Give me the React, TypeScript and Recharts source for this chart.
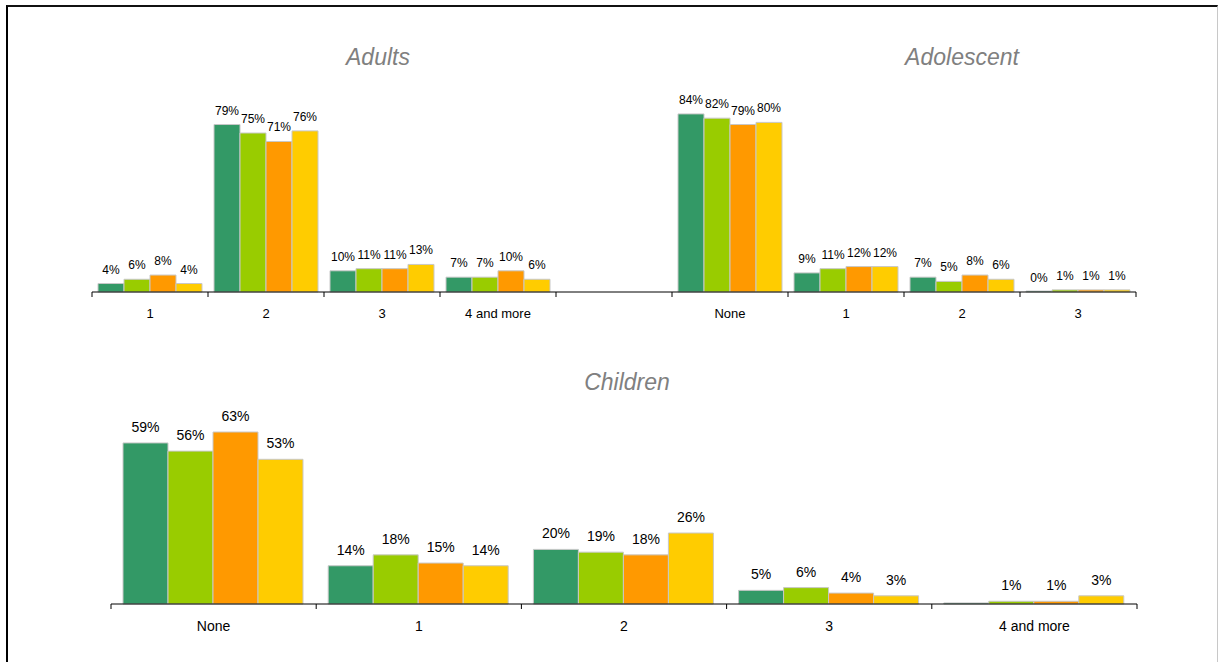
import React from "react";
import { BarChart, Bar, XAxis, YAxis, LabelList } from "recharts";

// ---- data ----
const topCategories = ["1", "2", "3", "4 and more", "", "None", "1", "2", "3"];
const topS1 = [4, 79, 10, 7, null, 84, 9, 7, 0];
const topS2 = [6, 75, 11, 7, null, 82, 11, 5, 1];
const topS3 = [8, 71, 11, 10, null, 79, 12, 8, 1];
const topS4 = [4, 76, 13, 6, null, 80, 12, 6, 1];

const childCategories = ["None", "1", "2", "3", "4 and more"];
const childS1 = [59, 14, 20, 5, 0.4];
const childS2 = [56, 18, 19, 6, 1];
const childS3 = [63, 15, 18, 4, 1];
const childS4 = [53, 14, 26, 3, 3];

const seriesKeys = ["s1", "s2", "s3", "s4"];
const seriesColors = ["#339966", "#99CC00", "#FF9900", "#FFCC00"];

const titles = [
  { text: "Adults", cx: 378, cy: 57 },
  { text: "Adolescent", cx: 962, cy: 57 },
  { text: "Children", cx: 627, cy: 382 },
];

const topData = topCategories.map((c, i) => ({
  cat: c,
  s1: topS1[i],
  s2: topS2[i],
  s3: topS3[i],
  s4: topS4[i],
}));
const childData = childCategories.map((c, i) => ({
  cat: c,
  s1: childS1[i],
  s2: childS2[i],
  s3: childS3[i],
  s4: childS4[i],
}));

const FONT = "'Liberation Sans', Arial, sans-serif";

const fmt = (v: any) => {
  if (v === null || v === undefined) return "";
  if (v > 0 && v < 1) return "";
  return `${v}%`;
};

const makeLabel = (fontSize: number, offset: number, baseY: number) => (props: any) => {
  const { x, y, width, height, value } = props;
  const txt = fmt(value);
  if (!txt || x == null || y == null) return null;
  const yy = Number(y);
  const hh = Number(height || 0);
  let topY = Math.min(yy, yy + hh);
  if (Number(value) === 0) topY = Math.max(topY, baseY);
  return (
    <text
      x={Number(x) + Number(width) / 2}
      y={topY - offset}
      textAnchor="middle"
      fontSize={fontSize}
      fontFamily={FONT}
      fill="#000"
    >
      {txt}
    </text>
  );
};

const makeTick =
  (bandWidth: number, count: number, fontSize: number, dy: number) =>
  (props: any) => {
    const { x, y, payload, index } = props;
    const left = x - bandWidth / 2;
    const right = x + bandWidth / 2;
    return (
      <g>
        <line x1={left} y1={y} x2={left} y2={y + 5} stroke="#000" strokeWidth={1} />
        {index === count - 1 && (
          <line x1={right} y1={y} x2={right} y2={y + 5} stroke="#000" strokeWidth={1} />
        )}
        <text
          x={x}
          y={y + dy}
          textAnchor="middle"
          fontSize={fontSize}
          fontFamily={FONT}
          fill="#000"
        >
          {payload.value}
        </text>
      </g>
    );
  };

const TOP_W = 1219;
const TOP_H = 340;
const topMargin = { top: 80, right: 83, bottom: 18, left: 92 };
const topBand = (TOP_W - topMargin.left - topMargin.right) / topCategories.length;
const topBaseY = TOP_H - topMargin.bottom - 30;

const CH_W = 1219;
const CH_H = 342;
const chMargin = { top: 11, right: 82, bottom: 28, left: 111 };
const chBand = (CH_W - chMargin.left - chMargin.right) / childCategories.length;
const chBaseY = CH_H - chMargin.bottom - 30;

export default function App() {
  return (
    <div
      style={{
        position: "absolute",
        left: 0,
        top: 0,
        width: 1219,
        height: 662,
        overflow: "hidden",
        background: "#fff",
        fontFamily: FONT,
      }}
    >
      <div
        style={{
          position: "absolute",
          left: 6,
          top: 5,
          width: 1212,
          height: 700,
          boxSizing: "border-box",
          borderTop: "2px solid #111",
          borderLeft: "2px solid #000",
          borderRight: "1px solid #c8c8c8",
        }}
      />
      {titles.map((t) => (
        <div
          key={t.text}
          style={{
            position: "absolute",
            left: t.cx - 150,
            width: 300,
            top: t.cy - 14,
            height: 28,
            lineHeight: "28px",
            textAlign: "center",
            fontStyle: "italic",
            fontSize: 23,
            color: "#808080",
            fontFamily: FONT,
          }}
        >
          {t.text}
        </div>
      ))}
      <div style={{ position: "absolute", left: 0, top: 0 }}>
        <BarChart
          width={TOP_W}
          height={TOP_H}
          data={topData}
          margin={topMargin}
          barGap={0}
          barCategoryGap={6}
        >
          <XAxis
            dataKey="cat"
            interval={0}
            height={30}
            tickSize={0}
            tickMargin={0}
            tickLine={false}
            axisLine={{ stroke: "#000", strokeWidth: 1 }}
            tick={makeTick(topBand, topCategories.length, 13, 26)}
          />
          <YAxis hide domain={[0, 100]} />
          {seriesKeys.map((k, i) => (
            <Bar
              key={k}
              dataKey={k}
              fill={seriesColors[i]}
              stroke="#c8c8c8"
              strokeWidth={1}
              minPointSize={1}
              isAnimationActive={false}
            >
              <LabelList dataKey={k} content={makeLabel(12, 10, topBaseY)} />
            </Bar>
          ))}
        </BarChart>
      </div>
      <div style={{ position: "absolute", left: 0, top: 320 }}>
        <BarChart
          width={CH_W}
          height={CH_H}
          data={childData}
          margin={chMargin}
          barGap={0}
          barCategoryGap={12}
        >
          <XAxis
            dataKey="cat"
            interval={0}
            height={30}
            tickSize={0}
            tickMargin={0}
            tickLine={false}
            axisLine={{ stroke: "#000", strokeWidth: 1 }}
            tick={makeTick(chBand, childCategories.length, 14, 27)}
          />
          <YAxis hide domain={[0, 100]} />
          {seriesKeys.map((k, i) => (
            <Bar
              key={k}
              dataKey={k}
              fill={seriesColors[i]}
              stroke="#c8c8c8"
              strokeWidth={1}
              isAnimationActive={false}
            >
              <LabelList dataKey={k} content={makeLabel(14, 11, chBaseY)} />
            </Bar>
          ))}
        </BarChart>
      </div>
    </div>
  );
}
